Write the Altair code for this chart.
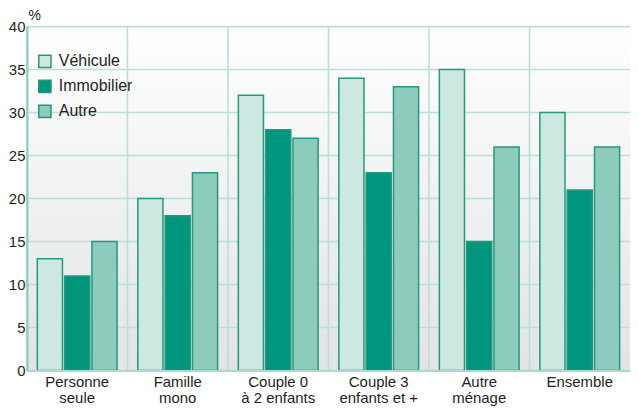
import altair as alt
import pandas as pd

# ---- data ----
categories = ["Personne|seule", "Famille|mono", "Couple 0|à 2 enfants",
              "Couple 3|enfants et +", "Autre|ménage", "Ensemble"]
series = ["Véhicule", "Immobilier", "Autre"]
vehicule = [13, 20, 32, 34, 35, 30]
immobilier = [11, 18, 28, 23, 15, 21]
autre = [15, 23, 27, 33, 26, 26]
y_ticks = [0, 5, 10, 15, 20, 25, 30, 35, 40]

colors = ["#cde8e0", "#00967d", "#8dcbbd"]
FONT = "Liberation Sans, Arial, sans-serif"
TEXT = "#231f20"
GRID = "#b9e0d5"

rows = []
for i, c in enumerate(categories):
    for s, vals in zip(series, [vehicule, immobilier, autre]):
        rows.append({"cat": c, "serie": s, "val": vals[i]})
df = pd.DataFrame(rows)
cat_df = pd.DataFrame({"cat": categories})
tick_df = pd.DataFrame({"t": y_ticks})

x_scale = alt.Scale(domain=categories, paddingInner=0, paddingOuter=0)
y_scale = alt.Scale(domain=[0, 40], nice=False)

x_axis = alt.Axis(labelExpr="split(datum.label, '|')", labelFontSize=15,
                  labelLineHeight=16, labelPadding=4, ticks=False,
                  domainColor="#a9dccf", domainWidth=2, labelColor=TEXT,
                  labelFont=FONT, grid=False, zindex=1, labelAngle=0, title=None)
y_axis = alt.Axis(values=y_ticks, grid=False, ticks=False, labelFontSize=15,
                  labelColor=TEXT, labelFont=FONT, labelPadding=2,
                  domainColor="#86cdbb", domainWidth=2, zindex=1,
                  title="%", titleAngle=0, titleAlign="left",
                  titleBaseline="bottom", titleX=1, titleY=-4,
                  titleFontSize=14, titleFontWeight="normal",
                  titleFont=FONT, titleColor=TEXT)

bg = alt.Chart(pd.DataFrame({"a": [0]})).mark_rect(
    fill=alt.Gradient(
        gradient="linear", x1=0, x2=0, y1=0, y2=1,
        stops=[alt.GradientStop(color="#ffffff", offset=0),
               alt.GradientStop(color="#e2e3e5", offset=1)],
    )
).encode(x=alt.value(0), x2=alt.value("width"), y=alt.value(0), y2=alt.value("height"))

hgrid = alt.Chart(tick_df).mark_rule(color=GRID, strokeWidth=1.6).encode(
    y=alt.Y("t:Q", scale=y_scale, axis=y_axis)
)

vgrid = alt.Chart(cat_df).mark_rule(color=GRID, strokeWidth=1.6).encode(
    x=alt.X("cat:N", scale=x_scale, sort=categories, bandPosition=0, axis=x_axis)
)

bars = alt.Chart(df).mark_bar(stroke="#23997f", strokeWidth=1.5).encode(
    x=alt.X("cat:N", scale=x_scale, sort=categories, axis=x_axis),
    xOffset=alt.XOffset("serie:N", sort=series,
                        scale=alt.Scale(domain=series, paddingInner=0.08, paddingOuter=0.38)),
    y=alt.Y("val:Q", scale=y_scale, axis=y_axis),
    color=alt.Color("serie:N", sort=series,
                    scale=alt.Scale(domain=series, range=colors),
                    legend=alt.Legend(title=None, orient="none", legendX=10, legendY=27,
                                      symbolType="square", symbolSize=150,
                                      symbolStrokeColor="#23997f", symbolStrokeWidth=1.5,
                                      labelFontSize=16, labelFont=FONT, labelColor=TEXT,
                                      labelOffset=6, rowPadding=5, padding=0)),
)

chart = alt.layer(bg, hgrid, vgrid, bars).properties(
    width=605, height=345,
    padding={"left": 0, "top": 0, "right": 0, "bottom": 0},
).configure_view(stroke=None)

chart.save("out.html", embed_options={"renderer": "svg", "actions": False})
